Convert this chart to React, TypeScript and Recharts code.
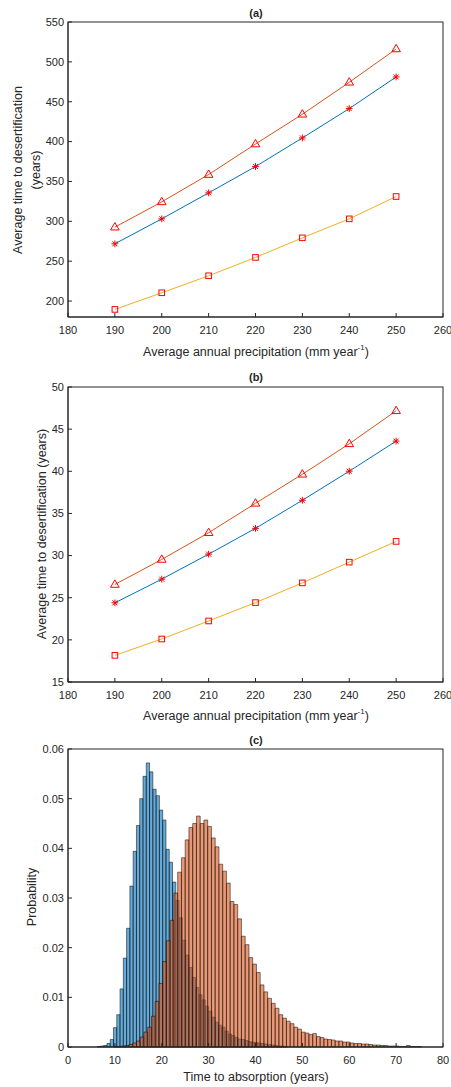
import { ComposedChart, Line, LineChart, ReferenceArea, XAxis, YAxis } from "recharts";

const FONT = '"Liberation Sans", Arial, Helvetica, sans-serif';
const INK = "#262626";
const MARKER = "#ff0000";
const BLUE = "#0072bd";
const ORANGE = "#d95319";
const YELLOW = "#edb120";

// panels (a) and (b): precipitation on x
const precipitation = [190, 200, 210, 220, 230, 240, 250];
const precipTicks = [180, 190, 200, 210, 220, 230, 240, 250, 260];

const aTriangle = [292.7, 324.4, 358.7, 397.0, 434.3, 474.4, 516.2];
const aStar = [271.8, 303.1, 335.7, 368.7, 404.6, 441.4, 481.1];
const aSquare = [189.5, 210.4, 231.7, 254.7, 279.3, 303.1, 331.1];
const aTicks = [200, 250, 300, 350, 400, 450, 500, 550];

const bTriangle = [26.57, 29.54, 32.71, 36.2, 39.65, 43.26, 47.18];
const bStar = [24.39, 27.2, 30.17, 33.23, 36.56, 40.01, 43.58];
const bSquare = [18.16, 20.1, 22.24, 24.42, 26.76, 29.22, 31.68];
const bTicks = [15, 20, 25, 30, 35, 40, 45, 50];

// panel (c): two histograms (probability per bin)
const blueStart = 6.2;
const blueWidth = 0.7;
const blueProb = [
  0.0001, 0.0002, 0.0003, 0.0007, 0.0015, 0.0039, 0.0065, 0.0117, 0.0179,
  0.0239, 0.0324, 0.0394, 0.0446, 0.05, 0.0545, 0.0572, 0.0554, 0.0519,
  0.0506, 0.0477, 0.0457, 0.0398, 0.0372, 0.0332, 0.0295, 0.026, 0.0215,
  0.0185, 0.016, 0.014, 0.012, 0.0105, 0.0095, 0.0082, 0.0072, 0.006, 0.005,
  0.0044, 0.004, 0.0032, 0.0026, 0.0023, 0.0019, 0.0016, 0.0015, 0.0013,
  0.0011, 0.001, 0.0009, 0.0008, 0.0007, 0.0006, 0.0005, 0.0004, 0.0003,
  0.0002, 0.0002, 0.0001,
];

const orangeStart = 9.8;
const orangeWidth = 0.8;
const orangeProb = [
  0.0001, 0.0001, 0.0002, 0.0003, 0.0005, 0.0008, 0.0012, 0.002, 0.003, 0.004,
  0.0062, 0.0092, 0.0128, 0.0172, 0.0214, 0.0255, 0.031, 0.0352, 0.0381,
  0.0417, 0.0442, 0.045, 0.0465, 0.045, 0.0457, 0.0444, 0.0421, 0.0403,
  0.0368, 0.0354, 0.033, 0.0293, 0.0287, 0.0258, 0.0223, 0.0206, 0.018,
  0.0167, 0.015, 0.0125, 0.0111, 0.0098, 0.0088, 0.0078, 0.0065, 0.0058,
  0.0052, 0.0047, 0.004, 0.0036, 0.003, 0.0028, 0.0025, 0.0027, 0.0021,
  0.0019, 0.0016, 0.0015, 0.0014, 0.0012, 0.0012, 0.001, 0.001, 0.0008,
  0.0007, 0.0007, 0.0006, 0.0006, 0.0005, 0.0004, 0.0004, 0.0003, 0.0003,
  0.0002, 0.0002, 0.0002, 0.0001, 0.0001, 0.0003, 0.0001, 0.0001, 0.0001,
];

const absorptionTicks = [0, 10, 20, 30, 40, 50, 60, 70, 80];
const probTicks = [0, 0.01, 0.02, 0.03, 0.04, 0.05, 0.06];

const rowsA = precipitation.map((x, i) => ({
  x,
  tri: aTriangle[i],
  star: aStar[i],
  sq: aSquare[i],
}));
const rowsB = precipitation.map((x, i) => ({
  x,
  tri: bTriangle[i],
  star: bStar[i],
  sq: bSquare[i],
}));

const toBins = (start: number, width: number, probs: number[]) =>
  probs.map((p, i) => ({
    x0: +(start + i * width).toFixed(2),
    x1: +(start + (i + 1) * width).toFixed(2),
    p,
  }));

const blueBins = toBins(blueStart, blueWidth, blueProb);
const orangeBins = toBins(orangeStart, orangeWidth, orangeProb);

// layout shared by the three panels
const W = 451;
const LEFT = 28;
const Y_AXIS_W = 40;
const RIGHT = 8;
const X_AXIS_H = 23;

const tick = { fontSize: 11, fill: INK, fontFamily: FONT };

function TriangleDot({ cx, cy }: any) {
  if (cx == null || cy == null) return null;
  return (
    <polygon
      points={`${cx},${cy - 4.6} ${cx - 4.3},${cy + 2.8} ${cx + 4.3},${cy + 2.8}`}
      fill="none"
      stroke={MARKER}
      strokeWidth={1}
    />
  );
}

function SquareDot({ cx, cy }: any) {
  if (cx == null || cy == null) return null;
  return (
    <rect
      x={cx - 2.8}
      y={cy - 2.8}
      width={5.6}
      height={5.6}
      fill="none"
      stroke={MARKER}
      strokeWidth={1}
    />
  );
}

function StarDot({ cx, cy }: any) {
  if (cx == null || cy == null) return null;
  const r = 3.4;
  const d = 2.5;
  return (
    <g stroke={MARKER} strokeWidth={1}>
      <line x1={cx - r} y1={cy} x2={cx + r} y2={cy} />
      <line x1={cx} y1={cy - r} x2={cx} y2={cy + r} />
      <line x1={cx - d} y1={cy - d} x2={cx + d} y2={cy + d} />
      <line x1={cx - d} y1={cy + d} x2={cx + d} y2={cy - d} />
    </g>
  );
}

// MATLAB style axes with inward ticks
function axes(
  xDomain: [number, number],
  xTicks: number[],
  yDomain: [number, number],
  yTicks: number[],
  yFormat?: (v: number) => string
) {
  return [
    <XAxis
      key="x"
      type="number"
      dataKey="x"
      domain={xDomain}
      ticks={xTicks}
      interval={0}
      allowDataOverflow
      height={X_AXIS_H}
      tickSize={-4}
      tickMargin={13}
      tick={tick}
      stroke={INK}
    />,
    <YAxis
      key="y"
      type="number"
      domain={yDomain}
      ticks={yTicks}
      interval={0}
      allowDataOverflow
      width={Y_AXIS_W}
      tickSize={-4}
      tickMargin={8}
      tick={tick}
      tickFormatter={yFormat}
      stroke={INK}
    />,
  ];
}

// closed box round the plot area (top and right edges)
function Frame({ plotTop, height }: { plotTop: number; height: number }) {
  const x = LEFT + Y_AXIS_W;
  const w = W - x - RIGHT;
  const h = height - plotTop - X_AXIS_H;
  return (
    <svg
      width={W}
      height={height}
      style={{ position: "absolute", left: 0, top: 0, pointerEvents: "none" }}
    >
      <rect x={x} y={plotTop} width={w} height={h} fill="none" stroke={INK} strokeWidth={1} />
    </svg>
  );
}

function LinePanel({
  top,
  height,
  plotTop,
  rows,
  yDomain,
  yTicks,
}: {
  top: number;
  height: number;
  plotTop: number;
  rows: { x: number; tri: number; star: number; sq: number }[];
  yDomain: [number, number];
  yTicks: number[];
}) {
  return (
    <div style={{ position: "absolute", left: 0, top, width: W, height }}>
      <LineChart
        width={W}
        height={height}
        data={rows}
        margin={{ top: plotTop, right: RIGHT, bottom: 0, left: LEFT }}
      >
        {axes([180, 260], precipTicks, yDomain, yTicks)}
        <Line
          dataKey="star"
          stroke={BLUE}
          strokeWidth={1}
          dot={(p: any) => <StarDot key={`s${p.index}`} cx={p.cx} cy={p.cy} />}
          activeDot={false}
          isAnimationActive={false}
        />
        <Line
          dataKey="tri"
          stroke={ORANGE}
          strokeWidth={1}
          dot={(p: any) => (
            <TriangleDot key={`t${p.index}`} cx={p.cx} cy={p.cy} />
          )}
          activeDot={false}
          isAnimationActive={false}
        />
        <Line
          dataKey="sq"
          stroke={YELLOW}
          strokeWidth={1}
          dot={(p: any) => <SquareDot key={`q${p.index}`} cx={p.cx} cy={p.cy} />}
          activeDot={false}
          isAnimationActive={false}
        />
      </LineChart>
      <Frame plotTop={plotTop} height={height} />
    </div>
  );
}

function HistPanel({ top, height, plotTop }: { top: number; height: number; plotTop: number }) {
  return (
    <div style={{ position: "absolute", left: 0, top, width: W, height }}>
      <ComposedChart
        width={W}
        height={height}
        margin={{ top: plotTop, right: RIGHT, bottom: 0, left: LEFT }}
      >
        {axes([0, 80], absorptionTicks, [0, 0.06], probTicks, (v) =>
          v === 0 ? "0" : v.toFixed(2)
        )}
        {blueBins.map((b) => (
          <ReferenceArea
            key={`b${b.x0}`}
            x1={b.x0}
            x2={b.x1}
            y1={0}
            y2={b.p}
            fill={BLUE}
            fillOpacity={0.6}
            stroke="#000"
            strokeWidth={0.5}
          />
        ))}
        {orangeBins.map((b) => (
          <ReferenceArea
            key={`o${b.x0}`}
            x1={b.x0}
            x2={b.x1}
            y1={0}
            y2={b.p}
            fill={ORANGE}
            fillOpacity={0.6}
            stroke="#000"
            strokeWidth={0.5}
          />
        ))}
      </ComposedChart>
      <Frame plotTop={plotTop} height={height} />
    </div>
  );
}

function Label({
  x,
  y,
  children,
  rotate = false,
  bold = false,
  size = 12.5,
}: {
  x: number;
  y: number;
  children: any;
  rotate?: boolean;
  bold?: boolean;
  size?: number;
}) {
  return (
    <div
      style={{
        position: "absolute",
        left: x,
        top: y,
        transform: `translate(-50%, -50%)${rotate ? " rotate(-90deg)" : ""}`,
        whiteSpace: "nowrap",
        textAlign: "center",
        fontSize: size,
        lineHeight: "18px",
        fontWeight: bold ? "bold" : "normal",
        color: INK,
        fontFamily: FONT,
      }}
    >
      {children}
    </div>
  );
}

const precipLabel = (
  <>
    Average annual precipitation (mm year<sup style={{ fontSize: 8 }}>-1</sup>)
  </>
);

export default function App() {
  return (
    <div
      style={{
        position: "absolute",
        left: 0,
        top: 0,
        width: W,
        height: 1087,
        background: "#fff",
        overflow: "hidden",
      }}
    >
      <LinePanel
        top={0}
        height={340}
        plotTop={22}
        rows={rowsA}
        yDomain={[180, 550]}
        yTicks={aTicks}
      />
      <LinePanel
        top={360}
        height={345}
        plotTop={27}
        rows={rowsB}
        yDomain={[15, 50]}
        yTicks={bTicks}
      />
      <HistPanel top={720} height={350} plotTop={29} />

      <Label x={256} y={13} bold size={11}>
        (a)
      </Label>
      <Label x={27} y={170} rotate>
        Average time to desertification
        <br />
        (years)
      </Label>
      <Label x={256} y={350}>
        {precipLabel}
      </Label>

      <Label x={256} y={377} bold size={11}>
        (b)
      </Label>
      <Label x={42} y={534} rotate>
        Average time to desertification (years)
      </Label>
      <Label x={256} y={714}>
        {precipLabel}
      </Label>

      <Label x={256} y={740} bold size={11}>
        (c)
      </Label>
      <Label x={32} y={897} rotate>
        Probability
      </Label>
      <Label x={256} y={1077}>
        Time to absorption (years)
      </Label>
    </div>
  );
}
